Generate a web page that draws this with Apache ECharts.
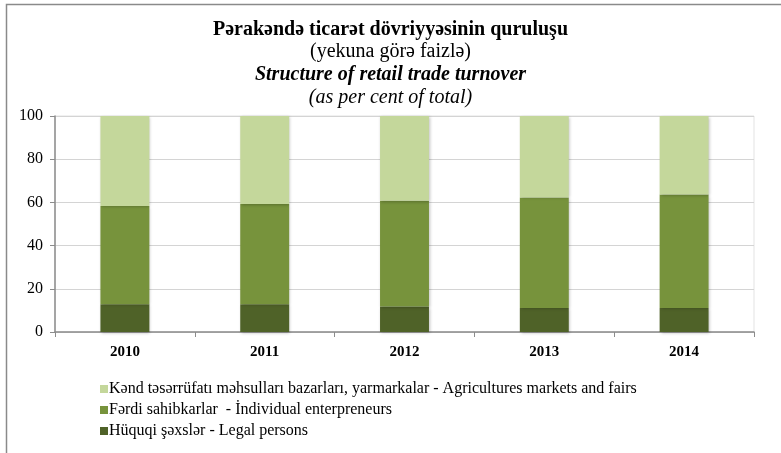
<!DOCTYPE html>
<html>
<head>
<meta charset="utf-8">
<script src="https://cdn.jsdelivr.net/npm/echarts@6/dist/echarts.min.js"></script>
<style>
  html, body { margin: 0; padding: 0; background: #fff; }
  #chart { width: 781px; height: 453px; }
</style>
</head>
<body>
<div id="chart"></div>
<script>
const years = ["2010", "2011", "2012", "2013", "2014"];
const legalPersons = [12.9, 12.9, 11.8, 11.1, 11.1];
const individualEntrepreneurs = [45.4, 46.4, 49.0, 51.2, 52.5];
const agriMarkets = [41.7, 40.7, 39.2, 37.7, 36.4];
const yTicks = { min: 0, max: 100, step: 20 };

const names = {
  agri: "Kənd təsərrüfatı məhsulları bazarları, yarmarkalar - Agricultures markets and fairs",
  indiv: "Fərdi sahibkarlar  - İndividual enterpreneurs",
  legal: "Hüquqi şəxslər - Legal persons"
};

const serif = "'Liberation Serif', 'Times New Roman', serif";
const barShadow = { shadowBlur: 3, shadowColor: "rgba(0,0,0,0.25)", shadowOffsetX: 1, shadowOffsetY: 1 };

const chart = echarts.init(document.getElementById("chart"));
chart.setOption({
  animation: false,
  textStyle: { fontFamily: serif },
  title: [
    { text: "Pərakəndə ticarət dövriyyəsinin quruluşu", left: "center", top: 15,
      textStyle: { fontFamily: serif, fontSize: 20, fontWeight: "bold", color: "#000" } },
    { text: "(yekuna görə faizlə)", left: "center", top: 37,
      textStyle: { fontFamily: serif, fontSize: 20, fontWeight: "normal", color: "#000" } },
    { text: "Structure of retail trade turnover", left: "center", top: 60,
      textStyle: { fontFamily: serif, fontSize: 20, fontWeight: "bold", fontStyle: "italic", color: "#000" } },
    { text: "(as per cent of total)", left: "center", top: 83,
      textStyle: { fontFamily: serif, fontSize: 20, fontWeight: "normal", fontStyle: "italic", color: "#000" } }
  ],
  graphic: [{
    type: "rect", silent: true,
    shape: { x: 6.5, y: 4.5, width: 900, height: 600 },
    style: { fill: "none", stroke: "#8a8a8a", lineWidth: 1.5 }
  }],
  legend: {
    orient: "vertical", left: 95, top: 376,
    itemWidth: 8, itemHeight: 8, itemGap: 5,
    icon: "rect",
    data: [names.agri, names.indiv, names.legal],
    textStyle: { fontFamily: serif, fontSize: 16, color: "#000", padding: [0, 0, 0, -4] }
  },
  grid: { left: 55, right: 27, top: 116, bottom: 121, show: true, borderColor: "#e3e3e3", borderWidth: 1 },
  xAxis: {
    type: "category", data: years,
    axisLine: { lineStyle: { color: "#8c8c8c", width: 1.5 } },
    axisTick: { show: true, length: 5, lineStyle: { color: "#8c8c8c" } },
    axisLabel: { fontFamily: serif, fontSize: 15, fontWeight: "bold", color: "#000", margin: 13 }
  },
  yAxis: {
    type: "value", min: yTicks.min, max: yTicks.max, interval: yTicks.step,
    axisLine: { show: true, lineStyle: { color: "#8c8c8c", width: 1.5 } },
    axisTick: { show: true, length: 5, lineStyle: { color: "#8c8c8c" } },
    axisLabel: { fontFamily: serif, fontSize: 16, color: "#000", margin: 12 },
    splitLine: { lineStyle: { color: "#d4d4d4" } }
  },
  series: [
    { name: names.legal, type: "bar", stack: "total", barWidth: "35%", data: legalPersons,
      itemStyle: Object.assign({ color: "#4F6228" }, barShadow) },
    { name: names.indiv, type: "bar", stack: "total", data: individualEntrepreneurs,
      itemStyle: Object.assign({ color: "#77933C" }, barShadow) },
    { name: names.agri, type: "bar", stack: "total", data: agriMarkets,
      itemStyle: Object.assign({ color: "#C4D79B" }, barShadow) }
  ]
});
</script>
</body>
</html>
